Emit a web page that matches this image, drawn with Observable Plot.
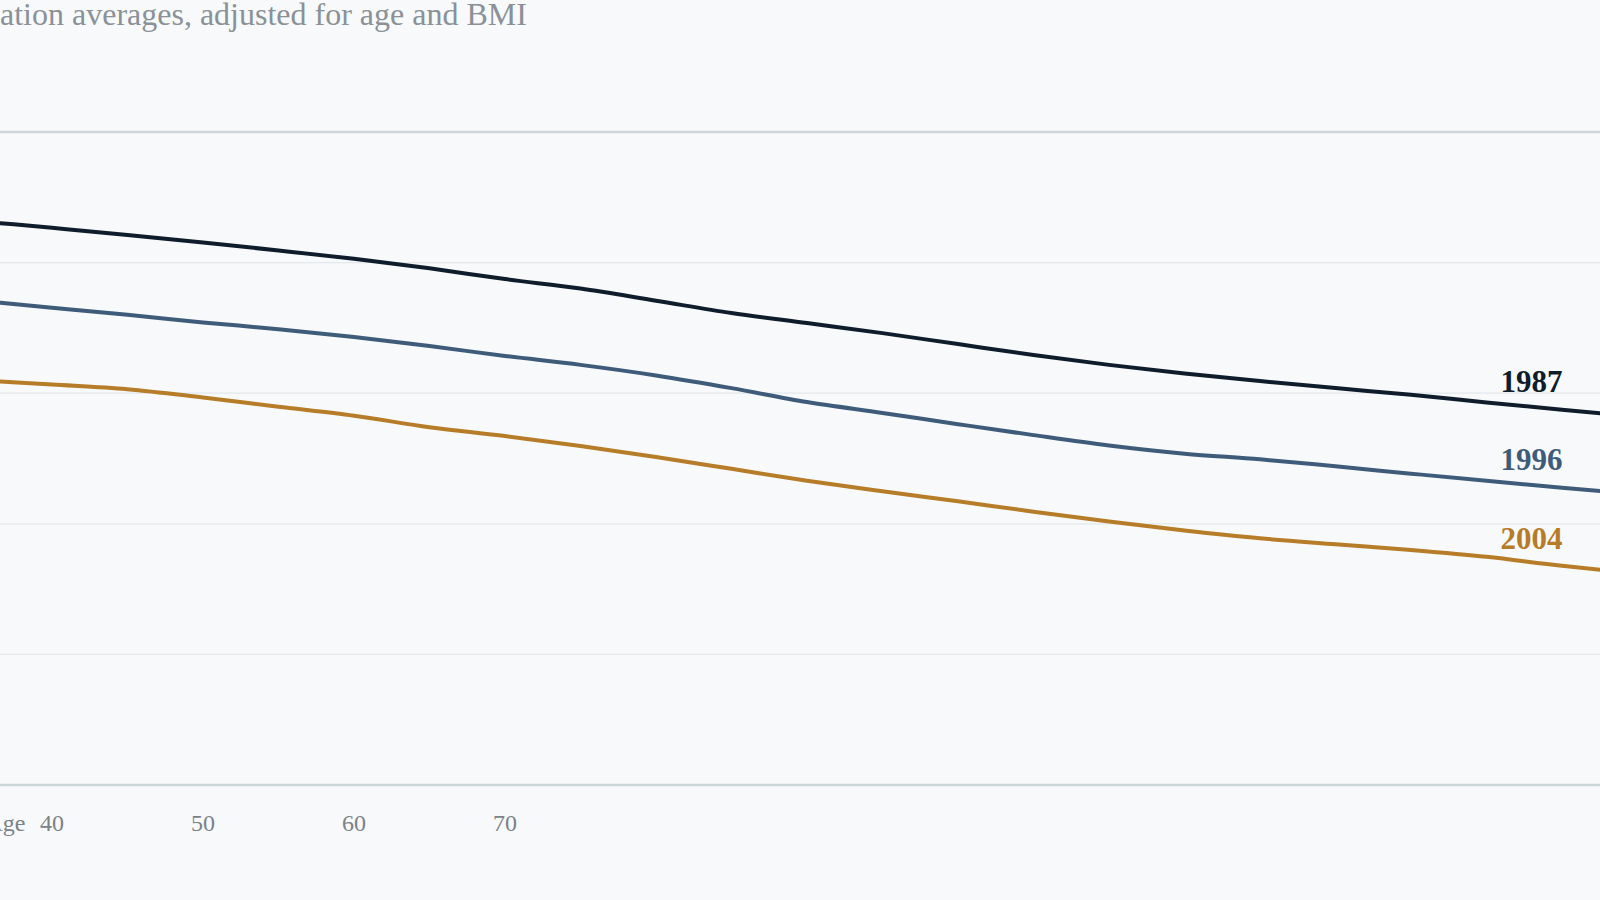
<!DOCTYPE html>
<html><head><meta charset="utf-8">
<script src="https://cdn.jsdelivr.net/npm/d3@7"></script>
<script src="https://cdn.jsdelivr.net/npm/@observablehq/plot@0.6"></script>
<style>
html,body{margin:0;padding:0;background:#f7f9fa;overflow:hidden;width:1600px;height:900px;}
#sub{height:40px;font-family:"Liberation Serif",serif;font-size:32px;line-height:28px;color:#8a9197;white-space:nowrap;}
#chart{height:860px;}
</style></head><body>
<div id="sub">ation averages, adjusted for age and BMI</div>
<div id="chart"></div>
<script>
const ages = [36.59, 40, 45, 50, 55, 60, 65, 70, 75, 80, 85, 90, 95, 100, 105, 110, 115, 120, 125, 130, 135, 140, 142.55];
const v1987 = [630.2, 626.6, 621.2, 615.4, 609.3, 602.9, 595.6, 587.4, 580.1, 570.8, 561.4, 553.7, 546.0, 537.6, 529.3, 521.7, 515.0, 509.3, 503.9, 498.8, 492.9, 487.4, 484.7];
const v1996 = [569.2, 565.5, 560.0, 554.2, 549.0, 543.0, 536.1, 528.5, 521.7, 513.6, 503.9, 493.2, 484.9, 476.3, 467.9, 460.0, 453.7, 449.4, 444.0, 438.4, 432.9, 427.6, 425.0];
const v2004 = [509.0, 506.7, 503.1, 496.7, 489.7, 482.8, 473.9, 467.2, 459.5, 451.1, 442.1, 433.0, 424.9, 417.2, 409.3, 401.8, 394.9, 388.9, 384.3, 379.9, 374.7, 367.8, 364.8];
const years = ["1987", "1996", "2004"];
const colors = ["#0f1c2b", "#3e5c7a", "#b67c28"];
const xTicks = [40, 50, 60, 70];
const yGrid = [300, 400, 500, 600];
const yFrame = [200, 700];

const series = [v1987, v1996, v2004];
const rows = years.flatMap((yr, i) => ages.map((a, j) => ({year: yr, age: a, value: series[i][j]})));

const serif = "'Liberation Serif', serif";
const chart = Plot.plot({
  width: 1600,
  height: 860,
  marginTop: 91.5,
  marginBottom: 115.5,
  marginLeft: 0,
  marginRight: 0,
  style: {background: "transparent", overflow: "visible"},
  x: {domain: [36.59, 142.55], label: null},
  y: {domain: [200, 700], axis: null, label: null},
  color: {domain: years, range: colors},
  marks: [
    Plot.ruleY(yGrid, {stroke: "#e4e8eb", strokeWidth: 1.2}),
    Plot.ruleY(yFrame, {stroke: "#cfd6da", strokeWidth: 2.5}),
    Plot.line(rows, {x: "age", y: "value", z: "year", stroke: "year", strokeWidth: 4, curve: "monotone-x"}),
    Plot.text(rows, Plot.selectLast({x: "age", y: "value", z: "year", text: "year", fill: "year",
      textAnchor: "end", lineAnchor: "middle", dx: -38, dy: -31,
      fontFamily: serif, fontWeight: "bold", fontSize: 31})),
    Plot.axisX(xTicks, {tickSize: 0, tickPadding: 28.5, fontSize: 24, fontFamily: serif, fill: "#7b8288", label: null}),
    Plot.text([xTicks[0]], {x: d => d, text: () => "Age", frameAnchor: "bottom", lineAnchor: "bottom",
      dx: -26.5, dy: 45.5, textAnchor: "end", fontSize: 24, fontFamily: serif, fill: "#7b8288"})
  ]
});
document.getElementById("chart").appendChild(chart);
</script>
</body></html>
